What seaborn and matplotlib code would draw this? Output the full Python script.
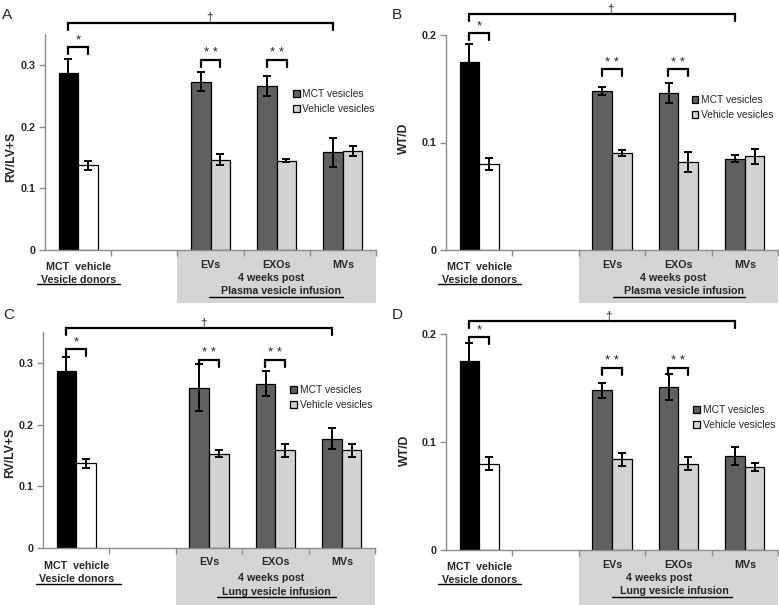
import numpy as np
import pandas as pd
import matplotlib
matplotlib.use("Agg")
import matplotlib.pyplot as plt
import matplotlib.transforms as mtransforms
from matplotlib.patches import Rectangle, Patch
import seaborn as sns

# ---------------- data ----------------
categories = ["Donors", "gap", "EVs", "EXOs", "MVs"]
series = ["MCT vesicles", "Vehicle vesicles"]

A_mct = [0.287, 0.273, 0.266, 0.158]
A_mct_err = [0.022, 0.015, 0.016, 0.023]
A_veh = [0.137, 0.146, 0.145, 0.161]
A_veh_err = [0.008, 0.009, 0.002, 0.008]

B_mct = [0.175, 0.148, 0.146, 0.085]
B_mct_err = [0.017, 0.004, 0.009, 0.003]
B_veh = [0.080, 0.090, 0.082, 0.087]
B_veh_err = [0.006, 0.003, 0.009, 0.007]

C_mct = [0.287, 0.260, 0.266, 0.177]
C_mct_err = [0.022, 0.038, 0.020, 0.017]
C_veh = [0.137, 0.153, 0.158, 0.158]
C_veh_err = [0.008, 0.005, 0.011, 0.010]

D_mct = [0.175, 0.148, 0.151, 0.087]
D_mct_err = [0.017, 0.007, 0.012, 0.008]
D_veh = [0.080, 0.084, 0.080, 0.077]
D_veh_err = [0.006, 0.006, 0.006, 0.004]

data_cats = ["Donors", "EVs", "EXOs", "MVs"]

# ---------------- style ----------------
W, H = 779, 605
sns.set_theme(style="white")
plt.rcParams['font.family'] = ['Liberation Sans', 'DejaVu Sans']

fig = plt.figure(figsize=(W / 100, H / 100), dpi=100)

C_DARK = "#606060"
C_LIGHT = "#d2d2d2"
C_BOX = "#d4d4d4"
C_AXIS = "#8c8c8c"


def make_df(mct, veh):
    return pd.DataFrame({
        "cat": data_cats * 2,
        "series": [series[0]] * 4 + [series[1]] * 4,
        "val": list(mct) + list(veh),
    })


panels = [
    dict(letter="A", rect=(45, 376, 250, 34), ylim=0.35, yticks=[0, 0.1, 0.2, 0.3],
         ylabel="RV/LV+S", ylab_xy=(-0.083, 0.43), mct=A_mct, mct_err=A_mct_err,
         veh=A_veh, veh_err=A_veh_err, infusion="Plasma vesicle infusion",
         dagger=0.3685, dag_x=1.99, star=0.329, dstar=0.308, leg=(0.75, 0.745),
         letter_xy=(2, 19), box=53, wk=2.91, inf=3.07, inf_ul=(1.98, 4.0),
         don_ul=(-0.62, 0.63), offs=(17, 30, 34, 15, 28, 41, 47)),
    dict(letter="B", rect=(446, 778, 250, 35), ylim=0.2, yticks=[0, 0.1, 0.2],
         ylabel="WT/D", ylab_xy=(-0.108, 0.52), mct=B_mct, mct_err=B_mct_err,
         veh=B_veh, veh_err=B_veh_err, infusion="Plasma vesicle infusion",
         dagger=0.2195, dag_x=1.97, star=0.2016, dstar=0.168, leg=(0.74, 0.72),
         letter_xy=(392, 19), box=53, wk=2.92, inf=3.08, inf_ul=(2.01, 4.0),
         don_ul=(-0.62, 0.63), offs=(17, 30, 34, 15, 28, 41, 47)),
    dict(letter="C", rect=(43, 375, 548, 332), ylim=0.35, yticks=[0, 0.1, 0.2, 0.3],
         ylabel="RV/LV+S", ylab_xy=(-0.08, 0.44), mct=C_mct, mct_err=C_mct_err,
         veh=C_veh, veh_err=C_veh_err, infusion="Lung vesicle infusion",
         dagger=0.357, dag_x=1.91, star=0.323, dstar=0.305, leg=(0.745, 0.755),
         letter_xy=(3, 319), box=57, wk=2.93, inf=3.02, inf_ul=(2.12, 3.91),
         don_ul=(-0.6, 0.68), offs=(18, 31, 36, 14, 30, 44, 49)),
    dict(letter="D", rect=(446, 778, 550, 334), ylim=0.2, yticks=[0, 0.1, 0.2],
         ylabel="WT/D", ylab_xy=(-0.106, 0.46), mct=D_mct, mct_err=D_mct_err,
         veh=D_veh, veh_err=D_veh_err, infusion="Lung vesicle infusion",
         dagger=0.212, dag_x=1.94, star=0.197, dstar=0.1686, leg=(0.745, 0.67),
         letter_xy=(392, 319), box=55, wk=2.71, inf=2.94, inf_ul=(2.0, 3.8),
         don_ul=(-0.62, 0.63), offs=(17, 30, 34, 15, 28, 41, 47)),
]

FS = 7.7

for p in panels:
    left, right, bottom, top = p["rect"]
    ax = fig.add_axes([left / W, 1 - bottom / H, (right - left) / W, (bottom - top) / H])
    df = make_df(p["mct"], p["veh"])
    sns.barplot(data=df, x="cat", y="val", hue="series", order=categories,
                hue_order=series, palette=[C_DARK, C_LIGHT], width=0.59,
                errorbar=None, edgecolor="black", linewidth=0.9, ax=ax,
                legend=False, saturation=1)
    ax.set_xlim(-0.5, 4.5)
    ax.set_ylim(0, p["ylim"])

    # recolor donors & add error bars
    errs = {series[0]: dict(zip(data_cats, p["mct_err"])),
            series[1]: dict(zip(data_cats, p["veh_err"]))}
    bar_conts = list(ax.containers)
    for si, cont in enumerate(bar_conts):
        sname = series[si]
        for patch in cont.patches:
            cx = patch.get_x() + patch.get_width() / 2
            h = patch.get_height()
            ci = int(round(cx))
            cat = categories[ci]
            if cat == "Donors":
                patch.set_facecolor("black" if si == 0 else "white")
            ax.errorbar(cx, h, yerr=errs[sname][cat], color="black", lw=1.4,
                        capsize=3, capthick=1.4, zorder=5)

    # axes styling
    for s in ["top", "right"]:
        ax.spines[s].set_visible(False)
    for s in ["left", "bottom"]:
        ax.spines[s].set_color(C_AXIS)
        ax.spines[s].set_linewidth(1.0)
    ax.set_xticks([0.5, 1.5, 2.5, 3.5, 4.5])
    ax.set_xticklabels([])
    ax.set_xlabel("")
    ax.set_yticks(p["yticks"])
    ax.set_yticklabels([("0" if t == 0 else f"{t:.1f}") for t in p["yticks"]],
                       fontsize=FS, fontweight="bold")
    ax.tick_params(axis="both", direction="out", length=4, width=1, color=C_AXIS,
                   bottom=True, left=True, pad=3)
    ax.set_ylabel(p["ylabel"], fontsize=8.8, fontweight="bold")
    ax.yaxis.set_label_coords(*p["ylab_xy"])

    # shaded box under infusion groups
    blend = mtransforms.blended_transform_factory(ax.transData, ax.transAxes)
    hpx = bottom - top
    ax.add_patch(Rectangle((1.5, -p["box"] / hpx), 3.0, p["box"] / hpx,
                           transform=blend, clip_on=False, facecolor=C_BOX,
                           edgecolor="none", zorder=0))

    o_mct, o_don, o_donul, o_cat, o_wk, o_inf, o_infl = p["offs"]

    def under_text(x, dy, txt):
        ax.annotate(txt, xy=(x, 0), xycoords=("data", "axes fraction"),
                    xytext=(0, -dy), textcoords="offset pixels",
                    ha="center", va="center", fontsize=FS, fontweight="bold",
                    annotation_clip=False)

    under_text(0, o_mct, "MCT  vehicle")
    under_text(0, o_don, "Vesicle donors")
    for xi, lab in zip([2, 3, 4], ["EVs", "EXOs", "MVs"]):
        under_text(xi, o_cat, lab)
    under_text(p["wk"], o_wk, "4 weeks post")
    under_text(p["inf"], o_inf, p["infusion"])

    def underline(x0, x1, dy):
        tr = mtransforms.offset_copy(blend, fig=fig, y=-dy, units="dots")
        ax.plot([x0, x1], [0, 0], color="black", lw=1.0, transform=tr, clip_on=False)

    underline(*p["don_ul"], o_donul)
    underline(*p["inf_ul"], o_infl)

    # significance brackets
    drop = p["ylim"] * 7 / hpx

    def bracket(x0, x1, y, txt, fs, tx=None, lift=0.1):
        ax.plot([x0, x0, x1, x1], [y - drop, y, y, y - drop], color="black",
                lw=1.6, clip_on=False, solid_joinstyle="miter")
        ax.text((x0 + x1) / 2 if tx is None else tx, y + drop * lift, txt,
                ha="center", va="bottom", fontsize=fs, clip_on=False)

    bracket(-0.15, 3.85, p["dagger"], "†", 8.5, tx=p["dag_x"], lift=-0.2)
    bracket(-0.15, 0.15, p["star"], "*", 9.5)
    bracket(1.85, 2.15, p["dstar"], "* *", 9.5)
    bracket(2.85, 3.15, p["dstar"], "* *", 9.5)

    # legend
    handles = [Patch(facecolor=C_DARK, edgecolor="black", linewidth=0.9),
               Patch(facecolor=C_LIGHT, edgecolor="black", linewidth=0.9)]
    ax.legend(handles, series, loc="upper left", bbox_to_anchor=p["leg"],
              frameon=False, fontsize=7.4, handlelength=0.65, handleheight=0.65,
              handletextpad=0.25, labelspacing=0.5, borderpad=0, borderaxespad=0)

    fig.text(p["letter_xy"][0] / W, 1 - p["letter_xy"][1] / H, p["letter"],
             fontsize=11, ha="left", va="baseline")

fig.savefig("out.png", dpi=100)
